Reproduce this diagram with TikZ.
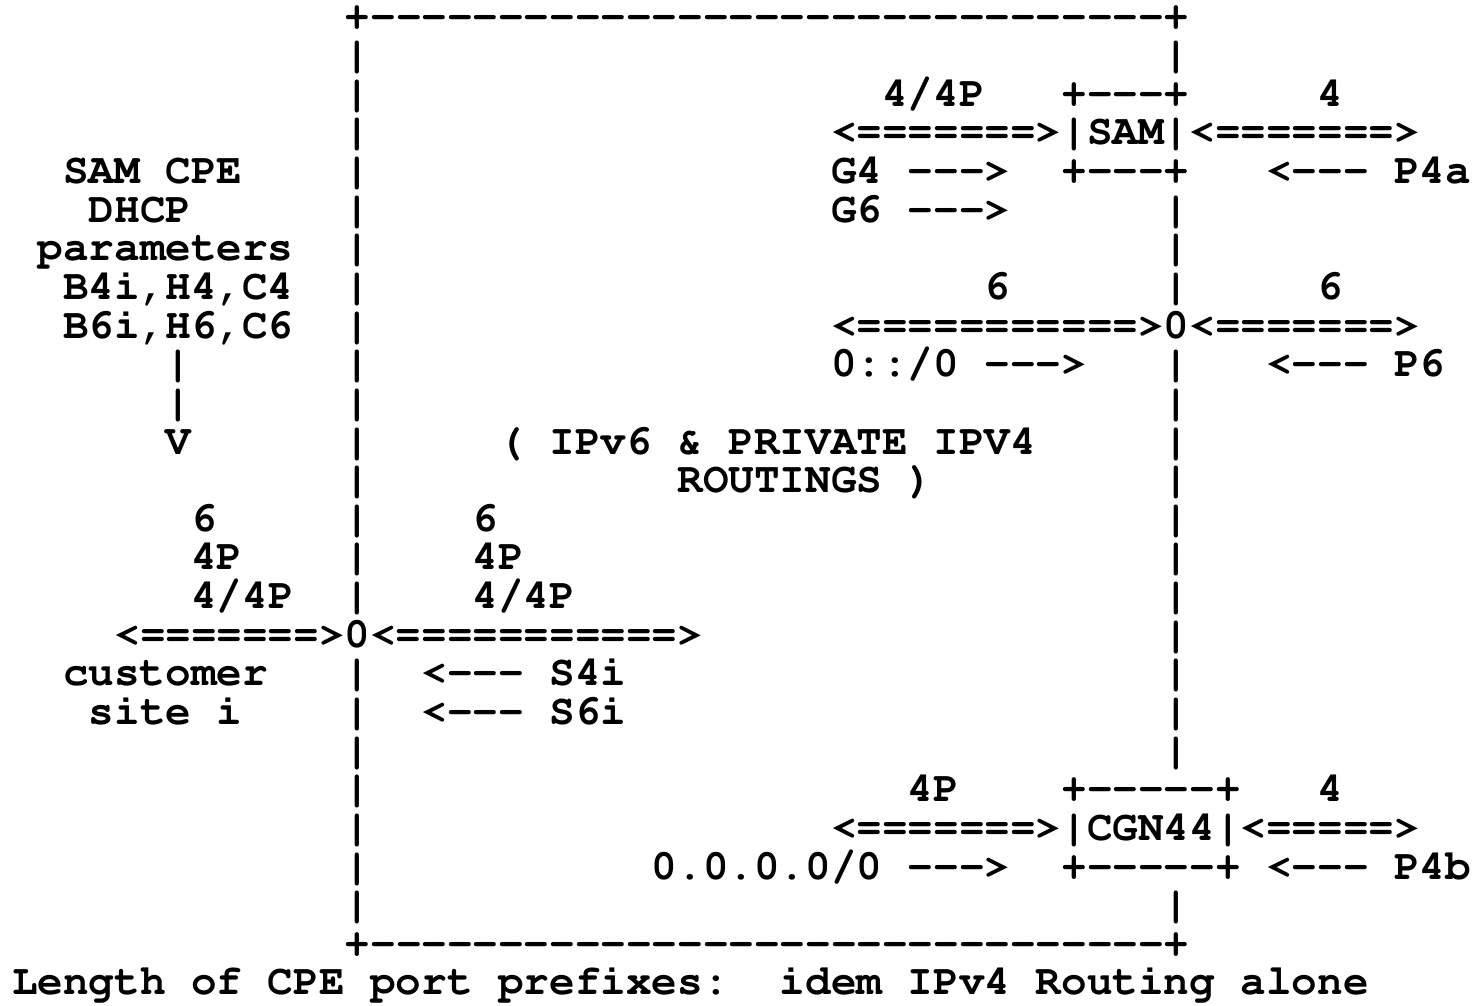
\documentclass[tikz,border=0pt]{standalone}
\usepackage[T1]{fontenc}
\usepackage{courier}

% dashes kept apart so that no dash ligatures form
\newcommand\dashrun[1]{\foreach \i in {1,...,#1}{-{}}}
\newcommand\toR{-{}-{}->}
\newcommand\toL{<-{}-{}-}

\begin{document}
\begin{tikzpicture}[
  x=6pt, y=-9.056pt,
  ascii/.style={
    anchor=base west, inner sep=0pt, outer sep=0pt,
    font=\fontsize{10}{12}\selectfont\ttfamily\bfseries
  }
]

% ---- page ----
\fill[white] (-0.469,-0.751) rectangle (57.15,25.26);

% ---- frame of the SAM domain ----
\node[ascii] (frameTop) at (13,0)  {+\dashrun{31}+};
\node[ascii] (frameBot) at (13,24) {+\dashrun{31}+};
\foreach \r in {1,...,15}{
  \node[ascii] (lbar\r) at (13,\r) {|};
}
\foreach \r in {17,...,23}{
  \node[ascii] (lbar\r) at (13,\r) {|};
}
\foreach \r in {1,5,6,7,9,10,11,12,13,14,15,16,17,18,19,23}{
  \node[ascii] (rbar\r) at (45,\r) {|};
}

% ---- SAM ----
\node[ascii] (samTopLbl) at (34,2) {4/4P};
\node[ascii] (samTop)    at (41,2) {+\dashrun{3}+};
\node[ascii] (p4aLbl)    at (51,2) {4};
\node[ascii] (gwArrow)   at (32,3) {<=======>};
\node[ascii] (sam)       at (41,3) {|SAM|};
\node[ascii] (ispArrow)  at (46,3) {<=======>};
\node[ascii] (g4)        at (32,4) {G4 \toR};
\node[ascii] (samBot)    at (41,4) {+\dashrun{3}+};
\node[ascii] (p4a)       at (49,4) {\toL{} P4a};
\node[ascii] (g6)        at (32,5) {G6 \toR};

% ---- IPv6 border ----
\node[ascii] (v6Lbl)     at (38,7) {6};
\node[ascii] (p6Lbl)     at (51,7) {6};
\node[ascii] (v6Arrow)   at (32,8) {<===========>};
\node[ascii] (v6Border)  at (45,8) {0};
\node[ascii] (p6Arrow)   at (46,8) {<=======>};
\node[ascii] (v6Default) at (32,9) {0::/0 \toR};
\node[ascii] (p6)        at (49,9) {\toL{} P6};

% ---- CPE parameters ----
\node[ascii] (cpeHead)   at (2,4) {SAM CPE};
\node[ascii] (dhcp)      at (3,5) {DHCP};
\node[ascii] (params)    at (1,6) {parameters};
\node[ascii] (param4)    at (2,7) {B4i,H4,C4};
\node[ascii] (param6)    at (2,8) {B6i,H6,C6};
\node[ascii] (stemA)     at (6,9)  {|};
\node[ascii] (stemB)     at (6,10) {|};
\node[ascii] (stemTip)   at (6,11) {V};

% ---- inside ----
\node[ascii] (routingA)  at (19,11) {( IPv6 \& PRIVATE IPV4};
\node[ascii] (routingB)  at (26,12) {ROUTINGS )};

% ---- CPE ----
\node[ascii] (ceLbl6)    at (7,13)  {6};
\node[ascii] (ceLbl4p)   at (7,14)  {4P};
\node[ascii] (ceLbl44)   at (7,15)  {4/4P};
\node[ascii] (peLbl6)    at (18,13) {6};
\node[ascii] (peLbl4p)   at (18,14) {4P};
\node[ascii] (peLbl44)   at (18,15) {4/4P};
\node[ascii] (ceArrow)   at (4,16)  {<=======>};
\node[ascii] (cpe)       at (13,16) {0};
\node[ascii] (peArrow)   at (14,16) {<===========>};
\node[ascii] (siteA)     at (2,17)  {customer};
\node[ascii] (siteB)     at (3,18)  {site i};
\node[ascii] (s4i)       at (16,17) {\toL{} S4i};
\node[ascii] (s6i)       at (16,18) {\toL{} S6i};

% ---- CGN44 ----
\node[ascii] (cgnTopLbl) at (35,20) {4P};
\node[ascii] (cgnTop)    at (41,20) {+\dashrun{5}+};
\node[ascii] (p4bLbl)    at (51,20) {4};
\node[ascii] (cgnArrowL) at (32,21) {<=======>};
\node[ascii] (cgn)       at (41,21) {|CGN44|};
\node[ascii] (cgnArrowR) at (48,21) {<=====>};
\node[ascii] (v4Default) at (25,22) {0.0.0.0/0 \toR};
\node[ascii] (cgnBot)    at (41,22) {+\dashrun{5}+};
\node[ascii] (p4b)       at (49,22) {\toL{} P4b};

% ---- caption ----
\node[ascii] (captionA)  at (0,25)  {Length of CPE port prefixes:};
\node[ascii] (captionB)  at (30,25) {idem IPv4 Routing alone};

\end{tikzpicture}
\end{document}
